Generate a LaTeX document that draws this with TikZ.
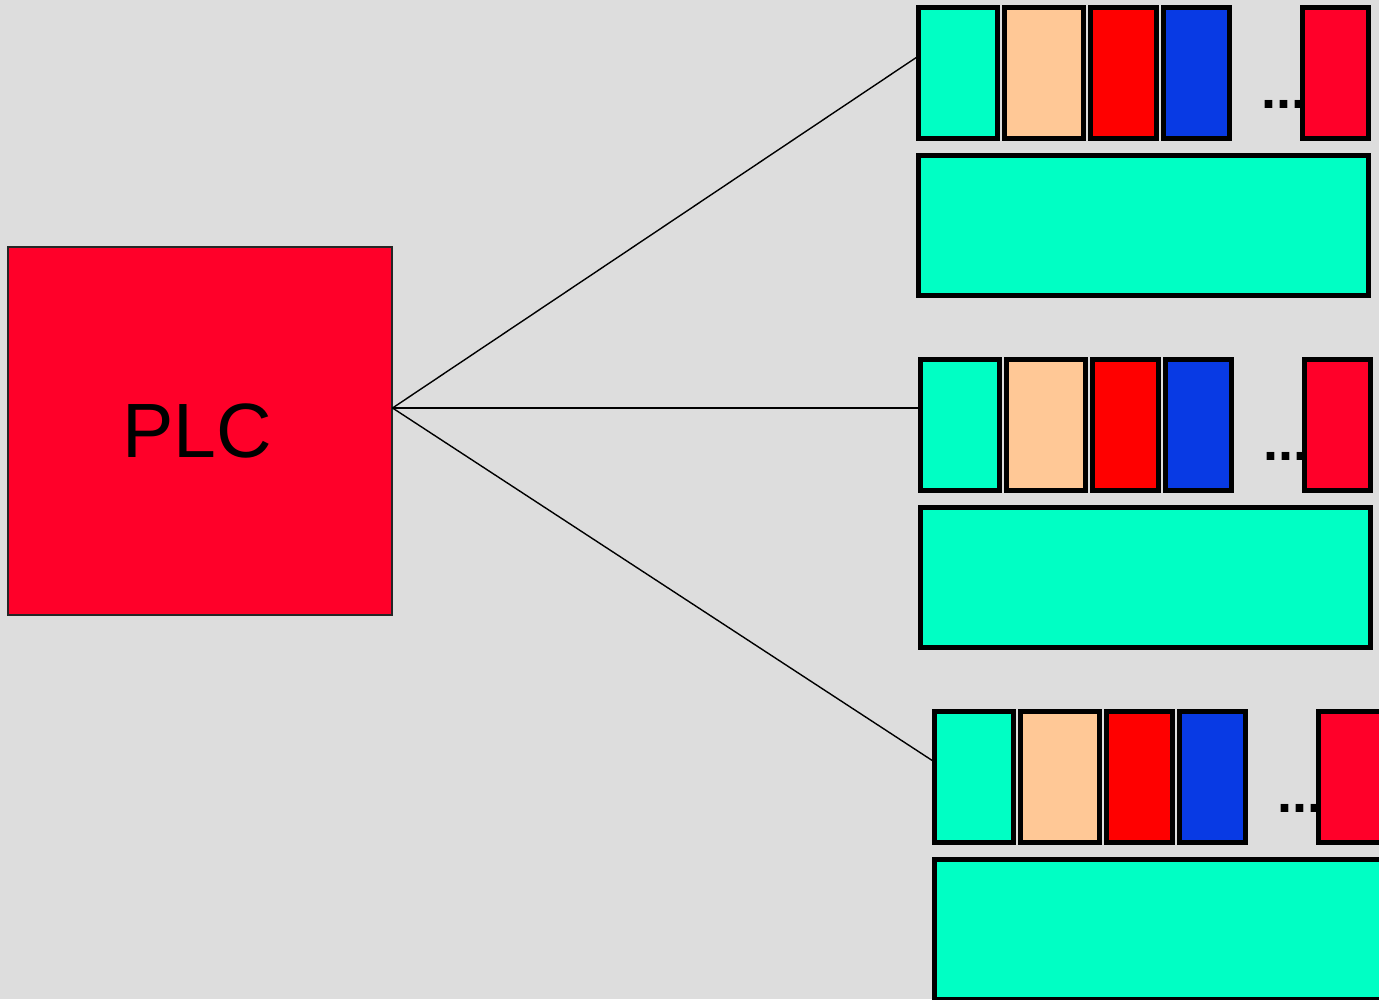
\documentclass[tikz,border=0pt]{standalone}
\usepackage{fontspec}
\setmainfont{Liberation Sans}
\definecolor{bg}{HTML}{DDDDDD}
\definecolor{cteal}{HTML}{00FFC4}
\definecolor{cpeach}{HTML}{FFC896}
\definecolor{cred}{HTML}{FF0000}
\definecolor{cblue}{HTML}{083AE4}
\definecolor{ccrimson}{HTML}{FF0029}
\tikzset{
  mod/.style={draw=black, line width=5pt, inner sep=0pt, outer sep=0pt},
  wire/.style={draw=black, line width=1.4pt},
  plcbox/.style={draw=black!85, line width=1.1pt, fill=ccrimson, inner sep=0pt,
    minimum width=384pt, minimum height=368pt},
  rack/.pic={
    \node[font=\bfseries\fontsize{54}{60}\selectfont, anchor=base west, inner sep=0pt] (-dots) at (345,103) {...};
    \node[mod, fill=cteal,  minimum width=79pt, minimum height=131pt] (-m1) at (42,68) {};
    \node[mod, fill=cpeach, minimum width=79pt, minimum height=131pt] (-m2) at (128,68) {};
    \node[mod, fill=cred,   minimum width=66pt, minimum height=131pt] (-m3) at (207.5,68) {};
    \node[mod, fill=cblue,  minimum width=66pt, minimum height=131pt] (-m4) at (280.5,68) {};
    \node[mod, fill=ccrimson, minimum width=66pt, minimum height=131pt] (-m5) at (419.5,68) {};
    \node[mod, fill=cteal,  minimum width=450pt, minimum height=140pt] (-base) at (227.5,220.5) {};
    \coordinate (-in) at (1,52);
  }
}
\begin{document}
\begin{tikzpicture}[x=1pt,y=-1pt]
\fill[bg] (0,0) rectangle (1379,999);
\useasboundingbox (0,0) rectangle (1379,999);
\clip (0,0) rectangle (1379,999);
\node[plcbox] (plc) at (200,431) {};
\node[font=\fontsize{77}{80}\selectfont, inner sep=0pt] (plclabel) at (197.5,431) {PLC};
\coordinate (hub) at ([yshift=23pt]plc.east);
\pic (r1) at (916,5) {rack};
\pic (r2) at (918,357) {rack};
\pic (r3) at (932,709) {rack};
\draw[wire] (hub) -- (r1-in);
\draw[wire] (hub) -- (hub -| r2-m1.west);
\draw[wire] (hub) -- (r3-in);
\end{tikzpicture}
\end{document}
